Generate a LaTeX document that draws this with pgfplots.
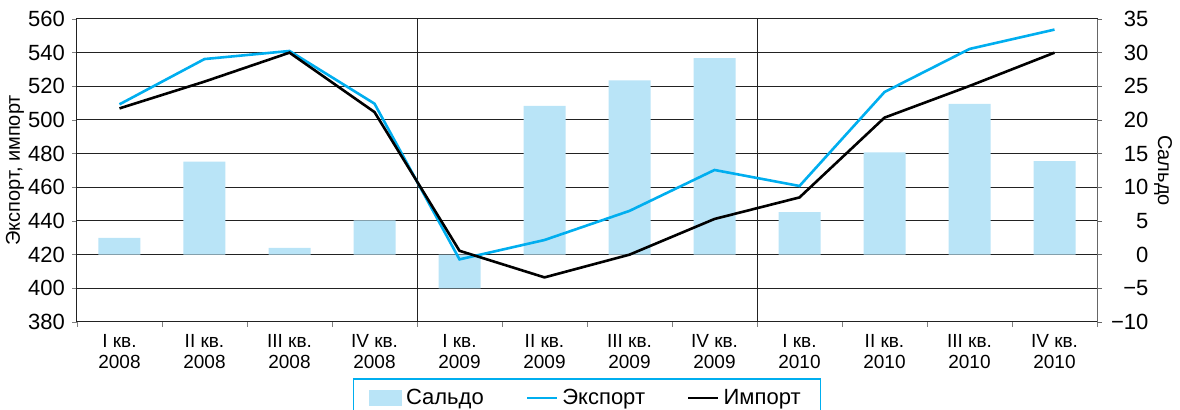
\documentclass[border=0pt]{standalone}
\usepackage{fontspec}
\setmainfont{Liberation Sans}
\usepackage{pgfplots}
\pgfplotsset{compat=1.18}
\definecolor{saldo}{HTML}{B9E4F7}
\definecolor{expc}{HTML}{00AEEF}
\definecolor{grd}{HTML}{222222}

\begin{document}
\begin{tikzpicture}
\pgfplotsset{
  base/.style={
    scale only axis, width=510pt, height=151.5pt,
    xmin=-0.5, xmax=11.5,
    /pgf/number format/assume math mode=true,
    tick align=outside,
    major tick length=2.5pt,
    minor tick length=2.5pt,
    ticklabel style={font=\fontsize{11}{13}\selectfont},
    label style={font=\fontsize{11.8}{14}\selectfont},
  },
  saldoleg/.style={legend image code/.code={\fill[saldo] (0pt,-3.75pt) rectangle (15.5pt,3.75pt);}},
}
% frame, grid and category labels
\begin{axis}[base,
  ymin=380, ymax=560, ytick={380,400,...,560},
  ymajorgrids, major grid style={grd, line width=0.5pt},
  axis line style={grd, line width=0.5pt},
  ytick pos=left, xtick pos=bottom,
  xtick={0,...,11},
  xticklabels={{I кв.\\2008},{II кв.\\2008},{III кв.\\2008},{IV кв.\\2008},
               {I кв.\\2009},{II кв.\\2009},{III кв.\\2009},{IV кв.\\2009},
               {I кв.\\2010},{II кв.\\2010},{III кв.\\2010},{IV кв.\\2010}},
  x tick label style={align=center, font=\fontsize{9.5}{10.5}\selectfont},
  major x tick style={draw=none},
  minor xtick={-0.5,0.5,...,11.5},
  extra x ticks={3.5,7.5}, extra x tick labels={},
  extra x tick style={grid=major, major grid style={grd, line width=0.5pt}},
  every axis y label/.style={at={(axis description cs:-0.0608,0.5)}, rotate=90, anchor=center},
  ylabel={Экспорт, импорт},
]
\end{axis}

% balance bars, right axis
\begin{axis}[base,
  ymin=-10, ymax=35, ytick={-10,-5,...,35},
  yticklabels={−10,−5,0,5,10,15,20,25,30,35},
  axis y line*=right, axis x line=none, xtick=\empty,
  y axis line style={black!60, line width=0.5pt},
  ytick style={black!60},
  yticklabel style={anchor=west, text width=22pt, align=right, inner xsep=1pt},
  every axis y label/.style={at={(axis description cs:1.0647,0.5)}, rotate=-90, anchor=center},
  ylabel={Сальдо},
  ybar, bar width=21pt,
]
\addplot[fill=saldo, draw=none] coordinates {
  (0,2.5) (1,13.8) (2,1.0) (3,5.1) (4,-5.0) (5,22.1)
  (6,25.9) (7,29.2) (8,6.3) (9,15.2) (10,22.4) (11,13.9)
};
\end{axis}

% export / import lines
\begin{axis}[base,
  ymin=380, ymax=560, hide axis,
  legend columns=3,
  legend image code/.code={\draw[#1] (0pt,0pt) -- (15pt,0pt);},
  legend style={at={(0.5,-0.1848)}, anchor=north, draw=expc, line width=0.8pt,
    font=\fontsize{11}{13}\selectfont, inner xsep=8pt, inner ysep=3pt,
    /tikz/every even column/.append style={column sep=19pt}},
]
\addlegendimage{saldoleg}
\addlegendentry{Сальдо}
\addplot[expc, line width=1.3pt] coordinates {
  (0,509.3) (1,536.2) (2,541.0) (3,509.7) (4,417.2) (5,428.7)
  (6,446.0) (7,470.3) (8,460.8) (9,516.6) (10,542.2) (11,553.7)
};
\addlegendentry{Экспорт}
\addplot[black, line width=1.3pt] coordinates {
  (0,506.9) (1,522.8) (2,540.0) (3,504.7) (4,422.3) (5,406.5)
  (6,420.0) (7,441.2) (8,454.0) (9,501.4) (10,520.2) (11,540.0)
};
\addlegendentry{Импорт}
\end{axis}

\pgfresetboundingbox
\useasboundingbox (-38.5pt,-44pt) rectangle (551.5pt,161pt);
\end{tikzpicture}
\end{document}
